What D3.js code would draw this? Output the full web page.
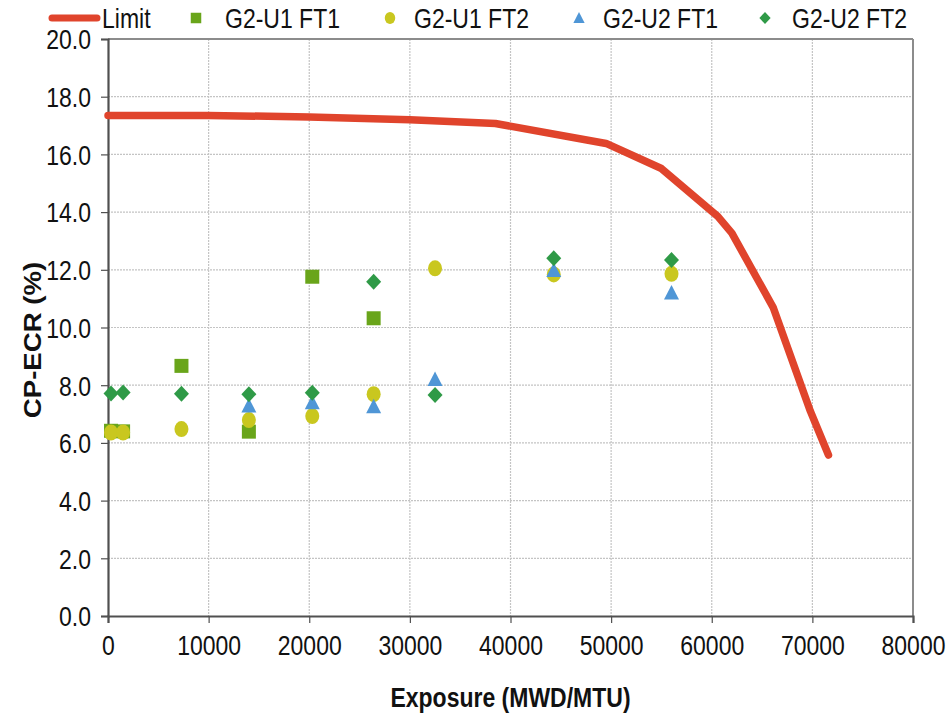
<!DOCTYPE html>
<html>
<head>
<meta charset="utf-8">
<script src="https://cdn.jsdelivr.net/npm/d3@7"></script>
<style>
  body { margin: 0; background: #fff; }
  svg { display: block; font-family: "Liberation Sans", Arial, sans-serif; }
</style>
</head>
<body>
<svg id="chart" width="951" height="721"></svg>
<script>
// ---- data ----
const limitExposure = [0, 10000, 20000, 30000, 38500, 49500, 55000, 60600, 62000, 66100, 69800, 71600];
const limitValue    = [17.35, 17.35, 17.3, 17.2, 17.07, 16.38, 15.51, 13.85, 13.27, 10.7, 7.1, 5.58];

const u1ft1Exposure = [300, 1500, 7300, 14000, 20300, 26400];
const u1ft1Value    = [6.42, 6.4, 8.67, 6.39, 11.76, 10.32];

const u1ft2Exposure = [300, 1500, 7300, 14000, 20300, 26400, 32500, 44300, 56000];
const u1ft2Value    = [6.36, 6.36, 6.48, 6.79, 6.93, 7.69, 12.05, 11.84, 11.86];

const u2ft1Exposure = [14000, 20300, 26400, 32500, 44300, 56000];
const u2ft1Value    = [7.28, 7.39, 7.25, 8.2, 11.98, 11.2];

const u2ft2Exposure = [300, 1500, 7300, 14000, 20300, 26400, 32500, 44300, 56000];
const u2ft2Value    = [7.71, 7.75, 7.7, 7.69, 7.74, 11.59, 7.66, 12.4, 12.34];

const xTicks = [0, 10000, 20000, 30000, 40000, 50000, 60000, 70000, 80000];
const yTicks = [0, 2, 4, 6, 8, 10, 12, 14, 16, 18, 20];

const seriesNames = ["Limit", "G2-U1 FT1", "G2-U1 FT2", "G2-U2 FT1", "G2-U2 FT2"];
const seriesColors = ["#e0442c", "#69a51a", "#c9c71f", "#4f96d6", "#2f9a47"];

// ---- layout ----
const svg = d3.select("#chart");
const pL = 108, pR = 913, pT = 39, pB = 616;
const stretch = 1.2; // text in the reference is drawn taller than wide
const fs = 23;
const x = d3.scaleLinear().domain([0, 80000]).range([pL, pR]);
const y = d3.scaleLinear().domain([0, 20]).range([pB, pT]);

function placeText(sel, tx, ty) {
  sel.attr("x", 0).attr("y", 0).attr("dy", null)
     .attr("transform", `translate(${tx},${ty}) scale(1,${stretch})`);
}

// gridlines
const grid = svg.append("g");
grid.selectAll("line.h").data(yTicks.filter(d => d > 0)).join("line")
  .attr("x1", pL).attr("x2", pR)
  .attr("y1", d => y(d)).attr("y2", d => y(d))
  .attr("stroke", "#c4c4c4").attr("stroke-width", 1.2).attr("stroke-dasharray", "2,1");
grid.selectAll("line.v").data(xTicks.filter(d => d > 0 && d < 80000)).join("line")
  .attr("y1", pT).attr("y2", pB)
  .attr("x1", d => x(d)).attr("x2", d => x(d))
  .attr("stroke", "#c4c4c4").attr("stroke-width", 1.2).attr("stroke-dasharray", "2,1");

// frame: top & right
svg.append("line").attr("x1", pL).attr("x2", pR).attr("y1", pT).attr("y2", pT)
  .attr("stroke", "#8c8c8c").attr("stroke-width", 2);
svg.append("line").attr("x1", pR).attr("x2", pR).attr("y1", pT).attr("y2", pB)
  .attr("stroke", "#8c8c8c").attr("stroke-width", 2);

// axes
const xAxis = svg.append("g").attr("transform", `translate(0,${pB})`)
  .call(d3.axisBottom(x).tickValues(xTicks).tickFormat(d3.format("d")).tickSize(7));
const yAxis = svg.append("g").attr("transform", `translate(${pL},0)`)
  .call(d3.axisLeft(y).tickValues(yTicks).tickFormat(d3.format(".1f")).tickSize(7));
[xAxis, yAxis].forEach(a => {
  a.select(".domain").attr("stroke", "#505050").attr("stroke-width", 2.2);
  a.selectAll(".tick line").attr("stroke", "#505050").attr("stroke-width", 1.2);
  a.selectAll(".tick text").attr("font-size", fs).attr("fill", "#111")
    .attr("font-family", "'Liberation Sans', Arial, sans-serif");
});
xAxis.selectAll(".tick text").call(placeText, 0, 39);
yAxis.selectAll(".tick text").call(placeText, -17, 9.8);

// axis titles
svg.append("text").attr("font-size", fs).attr("font-weight", "bold").attr("fill", "#111")
  .attr("text-anchor", "middle").text("Exposure (MWD/MTU)")
  .call(placeText, (pL + pR) / 2, 707);
svg.append("text")
  .attr("transform", `translate(41,340) rotate(-90) scale(${stretch},1)`)
  .attr("text-anchor", "middle").attr("font-size", fs).attr("font-weight", "bold").attr("fill", "#111")
  .text("CP-ECR (%)");

// limit line
const limitData = limitExposure.map((e, i) => [e, limitValue[i]]);
svg.append("path").datum(limitData)
  .attr("d", d3.line().x(d => x(d[0])).y(d => y(d[1])))
  .attr("fill", "none").attr("stroke", seriesColors[0]).attr("stroke-width", 7.5)
  .attr("stroke-linejoin", "round").attr("stroke-linecap", "round");

// markers
function drawMarker(g, type, color) {
  if (type === "square") {
    g.append("rect").attr("x", -7).attr("y", -7).attr("width", 14).attr("height", 14).attr("fill", color);
  } else if (type === "circle") {
    g.append("ellipse").attr("rx", 7).attr("ry", 8).attr("fill", color);
  } else if (type === "triangle") {
    g.append("path").attr("d", "M0,-8 L7.5,6.5 L-7.5,6.5 Z").attr("fill", color);
  } else if (type === "diamond") {
    g.append("path").attr("d", "M0,-8 L7.5,0 L0,8 L-7.5,0 Z").attr("fill", color);
  }
}
const scatter = [
  { ex: u1ft1Exposure, v: u1ft1Value, type: "square", color: seriesColors[1] },
  { ex: u1ft2Exposure, v: u1ft2Value, type: "circle", color: seriesColors[2] },
  { ex: u2ft1Exposure, v: u2ft1Value, type: "triangle", color: seriesColors[3] },
  { ex: u2ft2Exposure, v: u2ft2Value, type: "diamond", color: seriesColors[4] }
];
scatter.forEach(s => {
  const pts = s.ex.map((e, i) => [e, s.v[i]]);
  svg.append("g").selectAll("g").data(pts).join("g")
    .attr("transform", d => `translate(${x(d[0])},${y(d[1])})`)
    .each(function () { drawMarker(d3.select(this), s.type, s.color); });
});

// legend
const legend = svg.append("g");
legend.append("line").attr("x1", 52).attr("x2", 97).attr("y1", 18).attr("y2", 18)
  .attr("stroke", seriesColors[0]).attr("stroke-width", 7).attr("stroke-linecap", "round");
legend.append("text").attr("font-size", fs).attr("fill", "#111").text(seriesNames[0])
  .call(placeText, 102, 28);
const legendItems = [
  { type: "square", cx: 196, tx: 225 },
  { type: "circle", cx: 390, tx: 414 },
  { type: "triangle", cx: 579, tx: 603 },
  { type: "diamond", cx: 765, tx: 792 }
];
legendItems.forEach((it, i) => {
  const g = legend.append("g").attr("transform", `translate(${it.cx},18)`);
  const inner = g.append("g").attr("transform", "scale(0.75)");
  drawMarker(inner, it.type, seriesColors[i + 1]);
  legend.append("text").attr("font-size", fs).attr("fill", "#111")
    .text(seriesNames[i + 1]).call(placeText, it.tx, 28);
});
</script>
</body>
</html>
